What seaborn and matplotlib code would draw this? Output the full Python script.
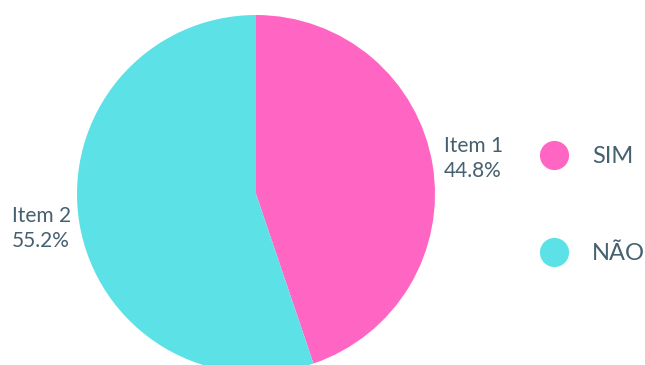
import matplotlib
matplotlib.use("Agg")
import matplotlib.pyplot as plt
from matplotlib.lines import Line2D
import seaborn as sns

sns.set_theme(style="white")
plt.rcParams['font.family'] = ['Lato', 'DejaVu Sans']

slice_names = ["Item 1", "Item 2"]
legend_labels = ["SIM", "NÃO"]
values = [44.8, 55.2]
colors = ["#FF66C4", "#5CE1E6"]
text_color = "#45606E"

W, H = 645, 365
fig = plt.figure(figsize=(W / 100, H / 100), dpi=100)
ax = fig.add_axes([0, 0, 1, 1])

cx, cy, r = 256, H - 194, 179
ax.pie(values, colors=colors, startangle=90, counterclock=False,
       center=(cx, cy), radius=r, frame=True,
       wedgeprops=dict(linewidth=0))
ax.set_xlim(0, W)
ax.set_ylim(0, H)
ax.set_aspect("equal")
ax.axis("off")

label_pos = [(444, H - 152), (12, H - 222)]
for (x, y), name, v in zip(label_pos, slice_names, values):
    ax.text(x, y, name, ha="left", va="baseline",
            fontsize=15, color=text_color)
    ax.text(x, y - 25, f"{v:.1f}%", ha="left", va="baseline",
            fontsize=15, color=text_color)

handles = [Line2D([0], [0], marker="o", linestyle="", markersize=21,
                  markerfacecolor=c, markeredgewidth=0) for c in colors]
leg = ax.legend(handles, legend_labels, loc="center left",
                bbox_to_anchor=(528 / W, 1 - 205 / H), frameon=False,
                fontsize=17, labelspacing=3.2, handlelength=1.2,
                handletextpad=1.0, labelcolor=text_color, borderpad=0)

fig.savefig("out.png", dpi=100)
